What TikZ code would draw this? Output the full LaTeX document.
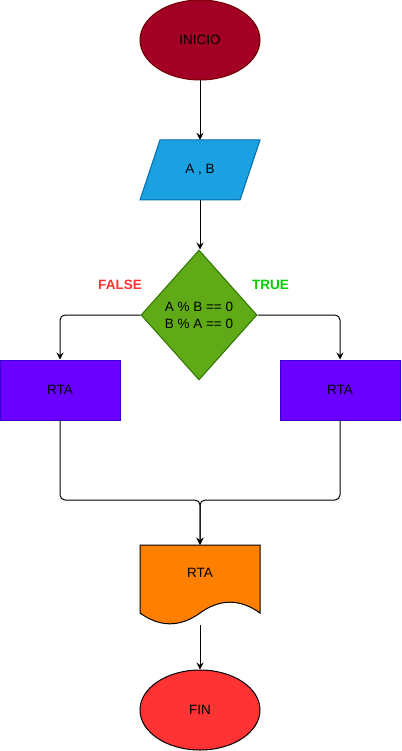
\documentclass[tikz,border=0pt]{standalone}
\usepackage{fontspec}
\setmainfont{Liberation Sans}
\usetikzlibrary{shapes.geometric,arrows.meta}
\definecolor{cinicio}{HTML}{A20025}
\definecolor{cinicioB}{HTML}{6F0000}
\definecolor{cab}{HTML}{1BA1E2}
\definecolor{cabB}{HTML}{006EAF}
\definecolor{cdec}{HTML}{60A917}
\definecolor{cdecB}{HTML}{2D7600}
\definecolor{crta}{HTML}{6A00FF}
\definecolor{crtaB}{HTML}{3700CC}
\definecolor{cdoc}{HTML}{FF8000}
\definecolor{cfin}{HTML}{FF3333}
\definecolor{cfalse}{HTML}{FF3333}
\definecolor{ctrue}{HTML}{00CC00}
\tikzset{
  txt/.style={font=\fontsize{13.5}{17}\selectfont, align=center, inner sep=0pt},
  term/.style={txt, ellipse, draw, line width=1pt, minimum width=120pt, minimum height=80pt},
  box/.style={txt, rectangle, minimum width=120pt, minimum height=60pt},
  decis/.style={txt, diamond, draw=cdecB, fill=cdec, line width=1pt, minimum width=116pt, minimum height=130pt},
  conn/.style={line width=1pt, rounded corners=5pt},
  arr/.style={conn, -{Stealth[length=7pt,width=7pt,inset=2.5pt]}},
  lbl/.style={font=\fontsize{13.5}{16}\selectfont\bfseries, inner sep=0pt}
}
\begin{document}
\begin{tikzpicture}[x=1pt,y=-1pt]
\useasboundingbox (0,0) rectangle (401,751);
% INICIO
\node[term, fill=cinicio, draw=cinicioB] (ini) at (200,40) {INICIO};
% A , B parallelogram
\filldraw[fill=cab, draw=cabB, line width=1pt] (160,140) -- (260,140) -- (240,200) -- (140,200) -- cycle;
\node[box] (ab) at (200,170) {A , B};
% decision
\node[decis] (dec) at (199,315) {A \% B == 0\\ B \% A == 0};
\node[lbl, text=cfalse] (lf) at (120,285) {FALSE};
\node[lbl, text=ctrue] (lt) at (270.5,285) {TRUE};
% RTA boxes
\node[box, fill=crta, draw=crtaB, line width=1pt] (rl) at (60,390) {RTA};
\node[box, fill=crta, draw=crtaB, line width=1pt] (rr) at (340,390) {RTA};
% document
\filldraw[fill=cdoc, draw=black, line width=1pt] (140,545) -- (260,545) -- (260,613)
  .. controls (240,598.6) and (220,598.6) .. (200,613)
  .. controls (180,627.4) and (160,627.4) .. (140,613) -- cycle;
\node[box, minimum height=80pt] (doc) at (200,585) {};
\node[txt] (doct) at (200,573) {RTA};
% FIN
\node[term, fill=cfin, draw=black] (fin) at (200,710) {FIN};
% connectors
\coordinate (m) at (200,500);
\draw[arr] (ini.south) -- (ab.north);
\draw[arr] (ab.south) -- (ab.south |- dec.north);
\draw[arr] (dec.west) -| (rl.north);
\draw[arr] (dec.east) -| (rr.north);
\draw[arr] (rl.south) |- (m) -- (doc.north);
\draw[arr] (rr.south) |- (m) -- (doc.north);
\draw[arr] (doc.south) -- (fin.north);
\end{tikzpicture}
\end{document}
